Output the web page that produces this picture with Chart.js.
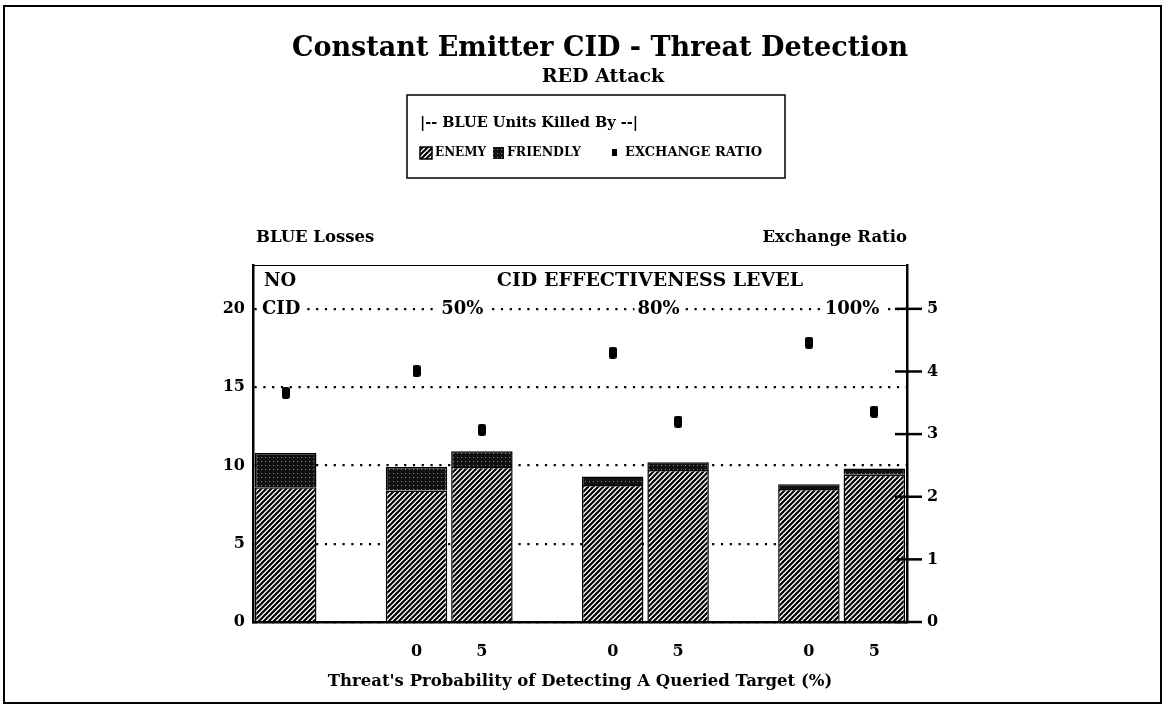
<!DOCTYPE html>
<html>
<head>
<meta charset="utf-8">
<title>Constant Emitter CID - Threat Detection</title>
<script src="https://cdn.jsdelivr.net/npm/chart.js@4.4.1/dist/chart.umd.min.js"></script>
<style>
    html, body { margin: 0; padding: 0; background: #fff; }
</style>
</head>
<body>
<canvas id="cidChart" width="1164" height="705"></canvas>
<script>
// slots on the x axis: NO CID bar, gap, 50% (0, 5), gap, 80% (0, 5), gap, 100% (0, 5)
const xLabels = ['', '', '0', '5', '', '0', '5', '', '0', '5'];
const enemyLosses = [8.6, null, 8.4, 9.9, null, 8.75, 9.7, null, 8.5, 9.4];
const friendlyLosses = [2.2, null, 1.5, 1.0, null, 0.55, 0.5, null, 0.3, 0.4];
const exchangeRatio = [3.66, null, 4.01, 3.07, null, 4.30, 3.20, null, 4.46, 3.36];
const lossTicks = [0, 5, 10, 15, 20];
const ratioTicks = [0, 1, 2, 3, 4, 5];
const levelLabels = ['50%', '80%', '100%'];

const serif = '"DejaVu Serif", "Liberation Serif", serif';

function hatchPattern() {
    const c = document.createElement('canvas');
    c.width = 5; c.height = 5;
    const g = c.getContext('2d');
    g.fillStyle = '#fff';
    g.fillRect(0, 0, 5, 5);
    g.strokeStyle = '#000';
    g.lineWidth = 2.2;
    g.beginPath();
    g.moveTo(-1, 6); g.lineTo(6, -1);
    g.moveTo(-1, 1); g.lineTo(1, -1);
    g.moveTo(4, 6); g.lineTo(6, 4);
    g.stroke();
    return g.createPattern(c, 'repeat');
}

function darkPattern() {
    const c = document.createElement('canvas');
    c.width = 4; c.height = 4;
    const g = c.getContext('2d');
    g.fillStyle = '#111';
    g.fillRect(0, 0, 4, 4);
    g.fillStyle = '#8a8a8a';
    g.fillRect(1, 1, 1, 1);
    return g.createPattern(c, 'repeat');
}

function ratioMarker() {
    const c = document.createElement('canvas');
    c.width = 8; c.height = 12;
    const g = c.getContext('2d');
    g.fillStyle = '#000';
    g.beginPath();
    g.roundRect(0, 0, 8, 12, 2.5);
    g.fill();
    return c;
}

const enemyFill = hatchPattern();
const friendlyFill = darkPattern();

function text(ctx, str, x, y, font, align) {
    ctx.font = font;
    ctx.textAlign = align || 'center';
    ctx.textBaseline = 'middle';
    ctx.fillStyle = '#000';
    ctx.fillText(str, x, y);
}

const decor = {
    id: 'decor',
    beforeDatasetsDraw(chart) {
        const ctx = chart.ctx;
        const a = chart.chartArea;
        const y20 = chart.scales.y.getPixelForValue(20);
        const w = a.right - a.left;
        ctx.save();
        ctx.font = 'bold 18px ' + serif;
        const spots = [['CID', a.left + 9, 'left']].concat(
            levelLabels.map((l, i) => [l, a.left + w * [0.32, 0.62, 0.916][i], 'center'])
        );
        spots.forEach(([str, x, align]) => {
            const tw = ctx.measureText(str).width;
            const x0 = align === 'left' ? x : x - tw / 2;
            ctx.fillStyle = '#fff';
            ctx.fillRect(x0 - 3, y20 - 8, tw + 6, 16);
            text(ctx, str, x, y20, 'bold 18px ' + serif, align);
        });
        text(ctx, 'NO', a.left + 11, a.top + 16, 'bold 18px ' + serif, 'left');
        text(ctx, 'CID EFFECTIVENESS LEVEL', a.left + w * 0.607, a.top + 16, 'bold 19px ' + serif);
        ctx.restore();
    },
    afterDraw(chart) {
        const ctx = chart.ctx;
        const a = chart.chartArea;
        ctx.save();

        // page frame
        ctx.strokeStyle = '#000';
        ctx.lineWidth = 2;
        ctx.strokeRect(4, 6, 1157, 697);

        // titles
        text(ctx, 'Constant Emitter CID - Threat Detection', 600, 49, 'bold 27px ' + serif);
        text(ctx, 'RED Attack', 603, 77, 'bold 19px ' + serif);

        // legend box
        ctx.lineWidth = 1.5;
        ctx.strokeRect(407, 95, 378, 83);
        text(ctx, '|-- BLUE Units Killed By --|', 420, 123, 'bold 14.5px ' + serif, 'left');
        const rowY = 153;
        ctx.fillStyle = enemyFill;
        ctx.fillRect(420, rowY - 6, 12, 12);
        ctx.strokeRect(420, rowY - 6, 12, 12);
        text(ctx, 'ENEMY', 435, rowY, 'bold 12px ' + serif, 'left');
        ctx.fillStyle = friendlyFill;
        ctx.fillRect(493, rowY - 6, 11, 12);
        text(ctx, 'FRIENDLY', 507, rowY, 'bold 12.5px ' + serif, 'left');
        ctx.fillStyle = '#000';
        ctx.fillRect(612, rowY - 4, 5, 7);
        text(ctx, 'EXCHANGE RATIO', 625, rowY, 'bold 13px ' + serif, 'left');

        // axis headings
        text(ctx, 'BLUE Losses', a.left + 3, 238, 'bold 16.5px ' + serif, 'left');
        text(ctx, 'Exchange Ratio', a.right, 238, 'bold 16.5px ' + serif, 'right');

        // top edge of plot box
        ctx.lineWidth = 1.2;
        ctx.beginPath();
        ctx.moveTo(a.left, a.top + 0.5);
        ctx.lineTo(a.right, a.top + 0.5);
        ctx.stroke();

        // tick marks crossing the right axis
        const y2 = chart.scales.y2;
        ctx.lineWidth = 2.5;
        ratioTicks.forEach(v => {
            const py = y2.getPixelForValue(v);
            ctx.beginPath();
            ctx.moveTo(a.right - 12, py);
            ctx.lineTo(a.right + 15, py);
            ctx.stroke();
        });
        ctx.restore();
    }
};

const ctxEl = document.getElementById('cidChart');

new Chart(ctxEl, {
    type: 'bar',
    data: {
        labels: xLabels,
        datasets: [
            {
                type: 'line',
                label: 'EXCHANGE RATIO',
                data: exchangeRatio,
                yAxisID: 'y2',
                showLine: false,
                pointStyle: ratioMarker(),
                order: 0
            },
            {
                label: 'ENEMY',
                data: enemyLosses,
                stack: 'losses',
                backgroundColor: enemyFill,
                borderColor: '#000',
                borderWidth: 1.5,
                barPercentage: 0.94,
                categoryPercentage: 1,
                order: 1
            },
            {
                label: 'FRIENDLY',
                data: friendlyLosses,
                stack: 'losses',
                backgroundColor: friendlyFill,
                borderColor: '#000',
                borderWidth: 1.5,
                barPercentage: 0.94,
                categoryPercentage: 1,
                order: 1
            }
        ]
    },
    options: {
        responsive: false,
        animation: false,
        devicePixelRatio: 1,
        layout: {
            padding: { top: 265, left: 0, right: 0, bottom: 0 }
        },
        scales: {
            x: {
                stacked: true,
                grid: { display: false },
                border: { display: true, color: '#000', width: 2.5 },
                ticks: {
                    autoSkip: false,
                    maxRotation: 0,
                    padding: 12,
                    color: '#000',
                    font: { family: serif, size: 16, weight: 'bold' }
                },
                title: {
                    display: true,
                    text: "Threat's Probability of Detecting A Queried Target (%)",
                    color: '#000',
                    font: { family: serif, size: 16.5, weight: 'bold' },
                    padding: { top: 0, bottom: 13 }
                },
                afterFit: s => { s.height = 83; }
            },
            y: {
                position: 'left',
                stacked: true,
                min: 0,
                max: 22.8,
                afterBuildTicks: s => { s.ticks = lossTicks.map(v => ({ value: v })); },
                grid: { color: '#000', lineWidth: 2.2, drawTicks: false },
                border: { display: true, color: '#000', width: 2.5, dash: [2.2, 6.6] },
                ticks: {
                    padding: 8,
                    color: '#000',
                    font: { family: serif, size: 16, weight: 'bold' }
                },
                afterFit: s => { s.width = 253; }
            },
            y2: {
                position: 'right',
                min: 0,
                max: 5.7,
                afterBuildTicks: s => { s.ticks = ratioTicks.map(v => ({ value: v })); },
                grid: { drawOnChartArea: false, drawTicks: false },
                border: { display: true, color: '#000', width: 2.5 },
                ticks: {
                    padding: 20,
                    color: '#000',
                    font: { family: serif, size: 16, weight: 'bold' }
                },
                afterFit: s => { s.width = 257; }
            }
        },
        plugins: {
            legend: { display: false },
            title: { display: false },
            tooltip: { enabled: false }
        }
    },
    plugins: [decor]
});
</script>
</body>
</html>
